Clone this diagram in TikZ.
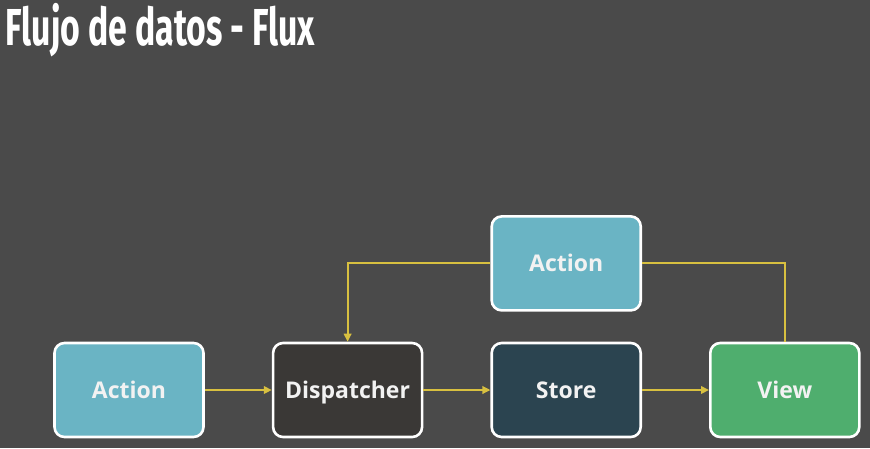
\documentclass[tikz,border=0pt]{standalone}
\usepackage{fontspec}
\setmainfont{Open Sans}
\newfontfamily\titlefont[FakeStretch=0.65]{Fira Sans}
\usetikzlibrary{positioning,arrows.meta}

\definecolor{bgdark}{HTML}{4A4A4A}
\definecolor{actionblue}{HTML}{6AB4C4}
\definecolor{dispgray}{HTML}{3A3836}
\definecolor{storeslate}{HTML}{2B4450}
\definecolor{viewgreen}{HTML}{4FAE6E}
\definecolor{flowyellow}{HTML}{D8C040}
\definecolor{textwhite}{HTML}{F2F2F2}

\tikzset{
  box/.style={draw=white,rectangle,line width=2.6pt,rounded corners=3.5mm,
    minimum width=149pt,minimum height=94pt,text=textwhite,
    text height=16.5pt,text depth=0pt,
    font=\bfseries\fontsize{23}{27}\selectfont},
  flow/.style={->,>={Triangle[length=8pt,width=7.5pt]},line width=2pt,draw=flowyellow},
  flowline/.style={line width=2pt,draw=flowyellow}
}

\begin{document}
\begin{tikzpicture}[x=1pt,y=-1pt,node distance=67pt]
\fill[bgdark] (0,0) rectangle (870,448);
\useasboundingbox (0,0) rectangle (870,448);

\node[anchor=base west,text=white,font=\titlefont\bfseries\fontsize{52}{58}\selectfont] (title) at (2,45) {Flujo de datos - Flux};

\draw node [box,fill=actionblue] (action) at (129,390) {Action};
\draw node [box,fill=dispgray,right=of action] (dispatcher) {Dispatcher};
\draw node [box,fill=storeslate,right=of dispatcher] (store) {Store};
\draw node [box,fill=viewgreen,right=of store] (view) {View};
\draw node [box,fill=actionblue,above=30pt of store] (viewaction) {Action};

\draw[flow] (action) -- (dispatcher);
\draw[flow] (dispatcher) -- (store);
\draw[flow] (store) -- (view);
\draw[flow] (viewaction.west) -| (dispatcher.north);
\draw[flowline] (viewaction.east) -| (view.north);

\end{tikzpicture}
\end{document}
